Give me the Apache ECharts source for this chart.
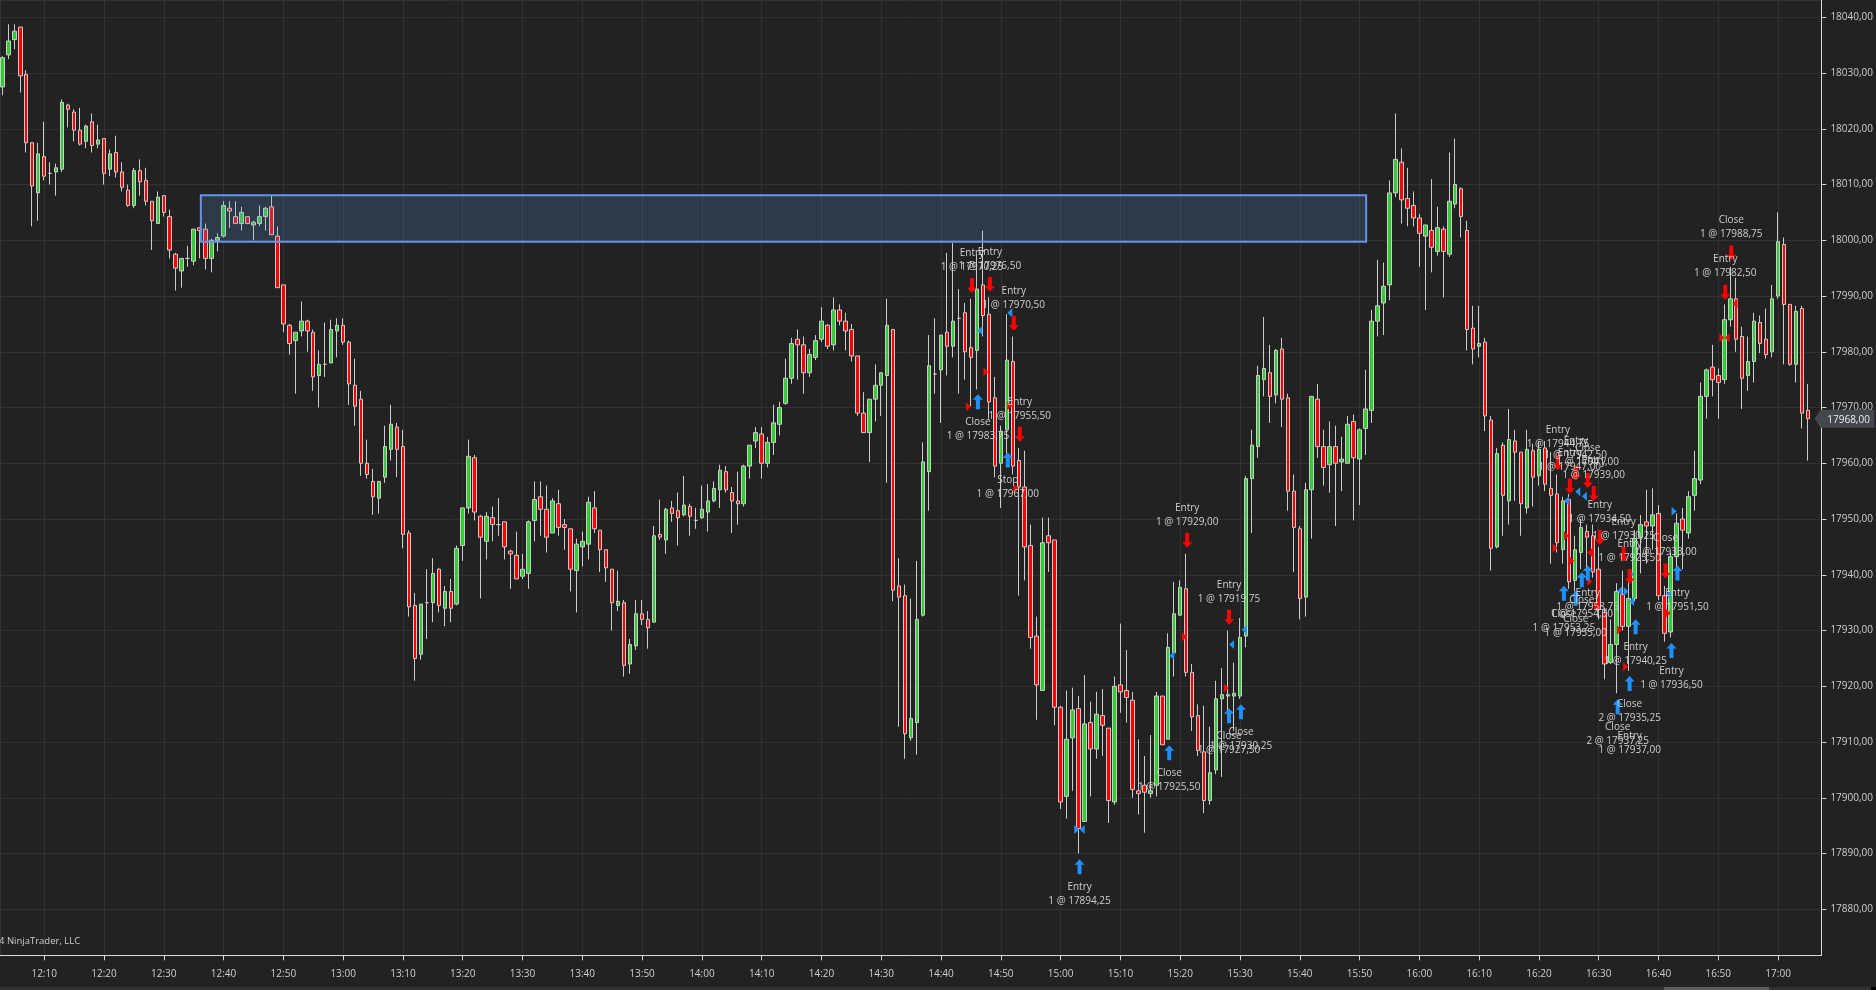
<!DOCTYPE html>
<html>
<head>
<meta charset="utf-8">
<style>html,body{margin:0;padding:0;background:#222222}#c{width:1876px;height:990px}</style>
<script src="https://cdn.jsdelivr.net/npm/echarts@6/dist/echarts.min.js"></script>
</head>
<body>
<div id="c"></div>
<script>
const firstMinute = 723; // 12:03, one bar per minute
const opens = [
18027.5,18033.25,18036,18038.25,18029.75,18017.5,18008.5,18015,18012,18012.25,
18012.75,18024.25,18023,18019.75,18017.75,18021.25,18017.25,18018.25,18012.75,18015.75,
18012.25,18009,18006.25,18012.5,18010.75,18007,18003,18008,18004.25,17997.5,
17994.5,17996.75,17996.25,18002.25,18002,17996.75,18000,18000.75,18005.75,18004.25,
18003,18004.25,18002.75,18003,18004.25,18006,18000.75,17992,17984.75,17982,
17983.75,17985.5,17983.5,17975.75,17977.75,17978,17983.75,17984.75,17981.75,17974,
17971.5,17960,17956.75,17953.75,17957.5,17962.5,17966.5,17963,17947.5,17934.5,
17925.75,17935,17935,17941,17934,17937,17934.75,17945.25,17952,17961,
17950.5,17946,17950.25,17949,17949.5,17944.25,17943.5,17939.75,17940.25,17949.75,
17954,17951.75,17947.5,17952.75,17949,17948.25,17940.75,17945,17945.5,17952,
17948,17944.5,17941,17934.5,17935,17924,17927.25,17933,17932,17931.5,
17947.25,17946.25,17952,17951.5,17950.75,17952.25,17949.75,17950.25,17951.25,17953.25,
17955.25,17958.5,17954.75,17953.25,17952.75,17959.5,17964,17965.25,17960,17963.75,
17967,17970.75,17975.25,17982.25,17981.25,17976.25,17979,17982.25,17984.75,17981.25,
17987.5,17985.5,17984,17979.25,17969,17965.5,17971.5,17974,17975.75,17984,
17938,17936.25,17910.75,17913.5,17932.75,17958.5,17976,17976.75,17983.5,17981,
17986,17987,17980.75,17980.25,17992,17986.75,17971.75,17960,17966,17978.25,
17960.5,17955.75,17945.25,17929,17919.25,17947,17946.25,17916.25,17900.25,17910.75,
17916,17895.75,17913.5,17908.75,17914.75,17912.5,17899.25,17920.25,17919.25,17917.5,
17901.25,17902.25,17900.75,17902.25,17918.25,17910.5,17926,17932.75,17937.5,17922.5,
17914.75,17908.25,17899.5,17905,17917.75,17918.25,17918.25,17918.25,17929,17957.25,
17963,17975,17976.25,17972.25,17980.5,17971.75,17955,17948.25,17936,17955.25,
17971.5,17963,17959.75,17963,17960.25,17960,17967.5,17960.75,17966.25,17969.5,
17985.5,17988.75,17992,18008.5,18014,18007.5,18006.25,18004,18000.75,18001.75,
17998,18002,17997.5,18006.5,18009.25,18001.75,17984.25,17981,17981.75,17967.75,
17945,17963.25,17953.25,17964,17962,17952,17962.25,17957.75,17962.75,17955.5,
17954.5,17944.5,17953.5,17939,17944,17947.75,17947,17941,17933.25,17924.25,
17927.5,17936.5,17930.75,17935.75,17946.75,17949.5,17948.75,17951,17936.25,17929.75,
17943.25,17950,17947.5,17954.25,17957,17972,17977.25,17975.75,17975,17985.75,
17989.5,17982.75,17975.75,17978.25,17985.25,17982.25,17980,17990,17999.25,17988.5,
17977.75,17987.75,17969.5];
const closes = [
18032.75,18035.75,18037.5,18029.5,18017.5,18009.75,18015.5,18011.5,18012,18013,
18024.75,18023.5,18019.75,18017.25,18020.5,18017,18018,18012,18015.5,18012.25,
18009.5,18006.25,18012.5,18010.5,18007,18003.5,18007.75,18005,17998.25,17995,
17996.75,17996.75,18002,18001.75,17996.75,18000,18000.5,18006.25,18005.25,18003,
18005,18003,18003.25,18004.25,18005.75,18001,17991.5,17985,17981.5,17983.5,
17985.5,17983.75,17975.5,17977.75,17977.75,17984,17984.75,17981.75,17974.25,17970.25,
17960,17958,17954,17956.75,17963,17967,17962.5,17947.25,17934.25,17925,
17934.75,17935,17940.25,17934.5,17937,17934,17944.75,17952,17961.25,17951.25,
17946.75,17950.5,17949,17949,17945,17943.75,17939.25,17941,17949.5,17953.5,
17951.75,17946.75,17953.25,17948.5,17948.5,17941,17945.5,17946,17953,17948.25,
17944.5,17941.25,17935,17935.25,17923.75,17927.5,17933,17932,17930.5,17947,
17946.75,17951.75,17951,17950.25,17952.5,17950.5,17949.75,17951.75,17953.25,17955.5,
17958.75,17955.25,17953.25,17952.75,17959.5,17963.25,17965.5,17960,17963.75,17967.25,
17970,17975.25,17981.5,17981.25,17976.25,17979.5,17982,17985.5,17981,17987.5,
17985.5,17983.75,17979.25,17969,17965.5,17971.5,17974,17976.25,17984.75,17937.25,
17936,17911.5,17914.25,17932,17960.25,17977.5,17976,17983,17981,17985.5,
17986,17980,17979,17991.25,17986.5,17971,17959.5,17965.75,17978.5,17959.5,
17955.75,17945,17928.75,17920.25,17945.75,17945.75,17916.25,17899.25,17910.5,17915.75,
17894.5,17913.25,17908.75,17915,17913,17899.5,17920,17919,17918,17901.5,
17900.75,17901,17901.25,17918.25,17909.5,17927,17933,17937.75,17922.5,17914.5,
17908.5,17899.5,17904.5,17917.75,17918.5,17918.5,17918.75,17928.75,17957.25,17963.25,
17975.75,17977,17972,17980.25,17971.5,17955,17948.5,17935.75,17955.25,17972,
17963,17959.25,17963,17960,17960.75,17967,17961,17966,17969.75,17985.5,
17988.25,17991.75,18008.5,18014.5,18007.25,18005.75,18004,18001.25,18002.75,17998.75,
18002.25,17998,18007,18010,18004.25,17984,17980.5,17981.5,17968.5,17944.75,
17961.75,17954.25,17964.25,17962,17952.75,17962.5,17957.5,17962.5,17956.25,17954.25,
17945.75,17953.25,17938.75,17944.5,17948.5,17946.75,17940.5,17933.75,17924,17927.5,
17937,17930.75,17935.75,17946.5,17949,17948.75,17950.75,17936.25,17929.5,17943.25,
17949.25,17948,17954,17957.25,17972,17976.75,17975,17974.5,17985.75,17989.5,
17982.25,17975.25,17978.25,17985.5,17981.5,17979.5,17989.5,17999.75,17988.5,17977.75,
17987.25,17969,17968];
const lows = [
18026,18032.5,18034.25,18026.5,18015.75,18002.5,18003.5,18010.75,18010,18008,
18012.25,18020.25,18017.75,18017,18016.5,18015.75,18016.5,18010,18011.5,18011.25,
18008.75,18006,18005.75,18008,18006.25,17998.25,18003,18004.25,17996.75,17991,
17991.5,17995.25,17995.5,17996.75,17994.75,17994.25,17998,18000.5,18002.25,18003,
18001.75,18003,18000,18002.5,18001.75,18001,17991.5,17983.5,17979.5,17972.5,
17982.75,17980,17973,17970,17975.5,17978,17979,17981.25,17970.5,17966.75,
17957.75,17957.25,17950.75,17951,17956.5,17960.5,17957.5,17944.75,17932.5,17921,
17924.75,17928.5,17931.5,17933.25,17930.75,17931.5,17934.5,17942.5,17951,17949.75,
17935.75,17942.75,17946,17947,17942.75,17937.5,17939.25,17939.25,17937.5,17946,
17947,17944,17947.5,17947,17944.5,17937,17933.25,17941.5,17942.75,17947.5,
17940.5,17938.75,17930,17933.5,17921.75,17922.25,17926.5,17931,17926.75,17931.5,
17946.25,17943.75,17949.5,17945.25,17950.5,17947,17948.25,17950,17947.75,17953,
17952,17954.75,17947.5,17949,17952.25,17957.25,17962.75,17957.25,17959.25,17961.5,
17965,17970.5,17974.25,17975,17972.5,17975.5,17978.5,17981.75,17980.5,17980.25,
17984.75,17980.25,17978.25,17968.5,17965.5,17960.25,17967.5,17968.5,17956.5,17935.25,
17912.75,17907,17910.25,17907.75,17932.5,17951.5,17972.5,17967.25,17975.75,17979,
17972.5,17975,17970.25,17973.25,17982.75,17968,17957.5,17952,17961.75,17958,
17936.25,17939,17926.75,17914,17919.25,17940.5,17913,17898,17896.25,17901.25,
17890,17895.75,17900.25,17907,17907.5,17895.5,17898.75,17915.25,17913.5,17900,
17897,17893.75,17900,17900.25,17909.5,17910.5,17921.75,17932.75,17921.75,17912,
17907.5,17897.25,17898.75,17904.25,17903.75,17913.75,17912,17917.75,17927,17947.5,
17961,17972,17967.25,17970.75,17966.5,17951.5,17940.5,17932,17932.5,17946.5,
17961,17956,17954.75,17948.75,17955,17960,17949.75,17952.5,17961.5,17967.25,
17982.75,17983,17989.25,18007.75,18003,18002.5,18002.5,17995.25,17987.5,17994.25,
17997.25,17989.75,17997,18005.75,18000.5,17980.25,17977.75,17979,17965.75,17940.75,
17944.75,17947,17949,17953.25,17947,17951,17952.25,17956,17955,17942,
17944,17942,17937.5,17937,17941,17940,17939.5,17932,17921.25,17924,
17918.75,17930,17922.75,17935.25,17940.25,17942,17944.5,17935.5,17928,17928.75,
17941,17941,17946.5,17951.5,17956.25,17968,17972,17968,17974.25,17984.5,
17980,17969.75,17973,17974.5,17979.75,17978.75,17979,17989.5,17977.75,17977.5,
17974.5,17966.25,17960.5];
const highs = [
18033,18038.75,18038.75,18038.25,18030.5,18017.5,18017.5,18021.25,18014,18013.75,
18025.25,18024.5,18023.5,18023.75,18020.75,18022.75,18020.75,18018.25,18016.25,18018.75,
18014,18010,18013,18014.5,18013,18007,18008.75,18008,18005.5,17997.75,
17996.75,17999,18002,18002.25,18003,18000.25,18001.25,18007,18007,18007,
18006,18004.25,18003.5,18006.25,18006,18008,18002.5,17992,17985,17983.5,
17989,17985.75,17984,17980.25,17985.25,17985.75,17986,17986,17982,17978.75,
17973,17964.25,17959,17956.75,17966.75,17970.5,17967.25,17966,17948,17936.75,
17934.75,17941,17943,17941.25,17938,17939.25,17945.25,17952,17964.25,17961.5,
17950.75,17951.25,17952.25,17953.75,17949.5,17944.5,17947.75,17943.75,17949.75,17956.75,
17956.75,17956,17953.75,17955.25,17950,17948.25,17946.5,17947.75,17954,17955,
17948,17944.5,17941,17940.75,17935.5,17928.5,17935.5,17935.5,17933.5,17948.75,
17953.5,17952,17953.25,17954.75,17957.75,17952.75,17952,17956,17956.25,17956.75,
17959.75,17959.5,17955.75,17958.5,17959.75,17963.25,17966.5,17966.5,17964.75,17970.5,
17971,17978.75,17982.5,17984,17982.75,17980.5,17983,17988,17985,17989.75,
17988.5,17987,17985,17979.25,17972.75,17971.5,17977.75,17976.25,17989.5,17984,
17943,17938.25,17935.75,17942.5,17963.75,17983,17986,17983,17997.75,17999.5,
17991.25,17988.75,17989.5,17997.5,18001.75,17989.75,17975.5,17966.75,17986.75,17982.75,
17962.75,17962.25,17949,17932.5,17950.25,17950.25,17946.25,17916.5,17919.25,17919.75,
17918.25,17922,17917.25,17919,17919.5,17912.5,17921.75,17931.25,17926.5,17919,
17910.5,17907.5,17911.25,17919,17918.25,17929.5,17938.75,17939,17943.75,17924,
17916.75,17916.5,17912.75,17921,17923.25,17930,17924.25,17932.25,17957.75,17966,
17977.5,17986.25,17981.25,17980.5,17982.5,17972.5,17958,17948.75,17956.5,17972,
17974.25,17966,17967.5,17966.75,17964.75,17968.5,17968.75,17966.25,17976.75,17987.5,
17996.5,17996,18010.75,18022.75,18016.5,18013,18008.75,18004.75,18002.75,18011,
18006,18002.5,18015.75,18018.25,18009.5,18003.5,17988.25,17988.25,17982.5,17968.5,
17962.75,17963.75,17969.75,17966,17962,17966,17963.5,17964,17964,17962,
17958,17954,17954.5,17947,17950,17949,17949,17945,17934,17932,
17938.5,17940.75,17941,17948,17950.75,17955.25,17955.5,17952.5,17938,17944,
17951,17952,17955,17962.25,17974.5,17977,17981.25,17977,17988.5,17995.25,
17993.25,17984.5,17982.75,17987,17986.5,17987.75,17992,18005,18000.5,17988.5,
17988.25,17988.25,17974.25];

// bar offset, price of the arrow, caption lines
const buyArrows = [
[163,17971.05,'Close','1 @ 17983,75'],[168,17960.6,'Stop','1 @ 17967,00'],
[180,17887.65,'Entry','1 @ 17894,25'],[195,17908.1,'Close','1 @ 17925,50'],
[205,17914.7,'Close','1 @ 17927,50'],[207,17915.45,'Close','1 @ 17930,25'],
[261,17936.7,'Close','1 @ 17953,25'],[263,17935.8,'Close','1 @ 17955,00'],
[264,17939.1,'Close','1 @ 17954,00'],[265,17940.3,'Entry','1 @ 17958,75'],
[273,17930.7,'Entry','1 @ 17940,25'],[272,17920.5,'Close','2 @ 17935,25'],
[270,17916.35,'Close','2 @ 17937,25'],[279,17926.4,'Entry','1 @ 17936,50'],
[280,17940.3,'Entry','1 @ 17951,50']];
const sellArrows = [
[162,17991.9,'Entry','1 @ 17970,25'],[165,17992.1,'Entry','1 @ 17976,50'],
[169,17985.1,'Entry','1 @ 17970,50'],[170,17965.2,'Entry','1 @ 17955,50'],
[198,17946.2,'Entry','1 @ 17929,00'],[205,17932.4,'Entry','1 @ 17919,75'],
[260,17960.1,'Entry','1 @ 17944,75'],[263,17958.2,'Entry','1 @ 17942,50'],
[262,17955.9,'Entry','1 @ 17947,00'],[265,17956.9,'Close','1 @ 17941,00'],
[266,17954.6,'Entry','1 @ 17939,00'],[267,17946.7,'Entry','1 @ 17934,50'],
[271,17943.7,'Entry','1 @ 17930,25'],[272,17939.7,'Entry','1 @ 17925,50'],
[278,17940.7,'Close','1 @ 17933,00'],[289,17997.7,'Close','1 @ 17988,75'],
[288,17990.7,'Entry','1 @ 17982,50']];
const captionOnly = [[272,17914.7,'Entry','1 @ 17937,00']];

// execution triangles: bar offset, price
const blueLeft = [[163.5,17983.8],[168.5,17987],[195.6,17925.5],[205.6,17927.5],[207.7,17930.15],[180.6,17894.3],
[261.6,17953.3],[263.5,17954.9],[264.6,17954.1],[270.5,17937.15],[272.5,17935.2],[278.6,17936.4]];
const blueRight = [[179.7,17894.3],[271.6,17937],[272.5,17940.1],[279.6,17951.4]];
const redRight = [[161.6,17970.15],[164.5,17976.4],[168.5,17970.3],[169.5,17955.5],[204.7,17919.7],[197.7,17928.9],
[259.7,17944.8],[261.6,17947],[262.5,17942.5],[265.5,17938.8],[266.6,17934.4],[270.5,17930.1],[271.5,17923.5],[278.6,17933.1],[287.6,17982.5]];
const redLeft = [[265.5,17944],[288.5,17982.5],[289.8,17988.6]];

const zoneStart = 33.2, zoneEnd = 228.1, zoneTop = 18008.1, zoneBottom = 17999.75;
const lastPrice = 17968;
const xMin = 722.61, xMax = 1027.24, yMin = 17871.75, yMax = 18043.1;

const FONT = '"Open Sans"', TXT = '#cecece';
const UP_ARROW = 'path://M5 0L10 5.5L7 5.5L7 15L3 15L3 5.5L0 5.5Z';
const DOWN_ARROW = 'path://M3 0L7 0L7 9.5L10 9.5L5 15L0 9.5L3 9.5Z';
const TRI_LEFT = 'path://M5 0L5 9L0 4.5Z';
const TRI_RIGHT = 'path://M0 0L0 9L5 4.5Z';

const toMin = i => firstMinute + i;
const arrowData = list => list.map(a => ({value:[toMin(a[0]),a[1]], text:a[2]+'\n'+a[3]}));
const triSeries = (list,symbol,color) => ({type:'scatter',symbol,symbolSize:[5,9],z:6,
  itemStyle:{color,opacity:1},silent:true,data:list.map(a=>[toMin(a[0]),a[1]])});
const arrowSeries = (list,symbol,color,pos,dist) => ({type:'scatter',symbol,symbolSize:[10,15],symbolOffset:[1,0],z:7,silent:true,
  itemStyle:{color,opacity:1},
  label:{show:true,position:pos,distance:dist,formatter:p=>p.data.text,color:TXT,fontFamily:FONT,fontSize:10,lineHeight:14,align:'center'},
  labelLayout:{hideOverlap:false},data:arrowData(list)});

const chart = echarts.init(document.getElementById('c'),null,{renderer:'canvas',width:1876,height:990});
chart.setOption({
  animation:false,
  backgroundColor:'#222222',
  title:{text:'4 NinjaTrader, LLC',left:-1,top:936,padding:0,textStyle:{color:TXT,fontFamily:FONT,fontSize:9.5,fontWeight:'normal'}},
  grid:{left:0,right:53.3,top:0,bottom:34.7,containLabel:false},
  xAxis:{type:'value',min:xMin,max:xMax,splitNumber:30,
    axisLine:{onZero:false,lineStyle:{color:'#d8d8d8',width:1}},
    axisTick:{length:5,lineStyle:{color:'#d8d8d8'}},
    axisLabel:{color:TXT,fontFamily:FONT,fontSize:10,margin:14,showMinLabel:false,showMaxLabel:false,
      formatter:v=>{const h=Math.floor(v/60),m=Math.round(v-h*60);return h+':'+String(m).padStart(2,'0');}},
    splitLine:{show:true,lineStyle:{color:'#313131',width:1}}},
  yAxis:{type:'value',position:'right',min:yMin,max:yMax,splitNumber:17,scale:true,
    axisLine:{show:true,onZero:false,lineStyle:{color:'#d8d8d8',width:1}},
    axisTick:{show:true,length:5,lineStyle:{color:'#d8d8d8'}},
    axisLabel:{color:TXT,fontFamily:FONT,fontSize:10,margin:9,padding:[2,0,0,0],showMinLabel:false,showMaxLabel:false,
      formatter:v=>v.toFixed(2).replace('.',',')},
    splitLine:{show:true,lineStyle:{color:'#313131',width:1}}},
  series:[
    {type:'candlestick',barWidth:4,z:2,silent:true,encode:{x:0,y:[1,2,3,4]},
      itemStyle:{color:'#32cd32',color0:'#ff0000',borderColor:'#cccccc',borderColor0:'#cccccc',borderColorDoji:'#cccccc',borderWidth:1},
      data:opens.map((o,i)=>[toMin(i),o,closes[i],lows[i],highs[i]]),
      markPoint:{silent:true,z:10,animation:false,symbol:'path://M0 9L6 0L60 0L60 18L6 18Z',symbolSize:[60,18],symbolOffset:[23.2,0],
        itemStyle:{color:'#46464d'},
        label:{show:true,position:'inside',offset:[4,1],color:'#ececec',fontFamily:FONT,fontSize:10,formatter:lastPrice.toFixed(2).replace('.',',')},
        data:[{coord:[xMax,lastPrice]}]},
    },
    {type:'scatter',silent:true,z:3,data:[],
      markArea:{silent:true,z:4,itemStyle:{color:'rgba(100,155,230,0.2)',borderColor:'#6495ed',borderWidth:2},
        data:[[{coord:[toMin(zoneStart),zoneTop]},{coord:[toMin(zoneEnd),zoneBottom]}]]}},
    arrowSeries(buyArrows,UP_ARROW,'#1e90ff','bottom',6),
    arrowSeries(sellArrows,DOWN_ARROW,'#ff0000','top',4),
    arrowSeries(captionOnly,UP_ARROW,'rgba(0,0,0,0)','bottom',6),
    triSeries(blueLeft,TRI_LEFT,'#1e90ff'),
    triSeries(blueRight,TRI_RIGHT,'#1e90ff'),
    triSeries(redRight,TRI_RIGHT,'#ff0000'),
    triSeries(redLeft,TRI_LEFT,'#ff0000')
  ],
  graphic:[
    {type:'rect',silent:true,shape:{x:0,y:987,width:1876,height:3},style:{fill:'#303030'}},
    {type:'rect',silent:true,shape:{x:1664,y:987,width:105,height:3},style:{fill:'#5c5c5c'}},
    {type:'rect',silent:true,shape:{x:1871,y:987,width:5,height:3},style:{fill:'#000000'}}
  ]
});
</script>
</body>
</html>
